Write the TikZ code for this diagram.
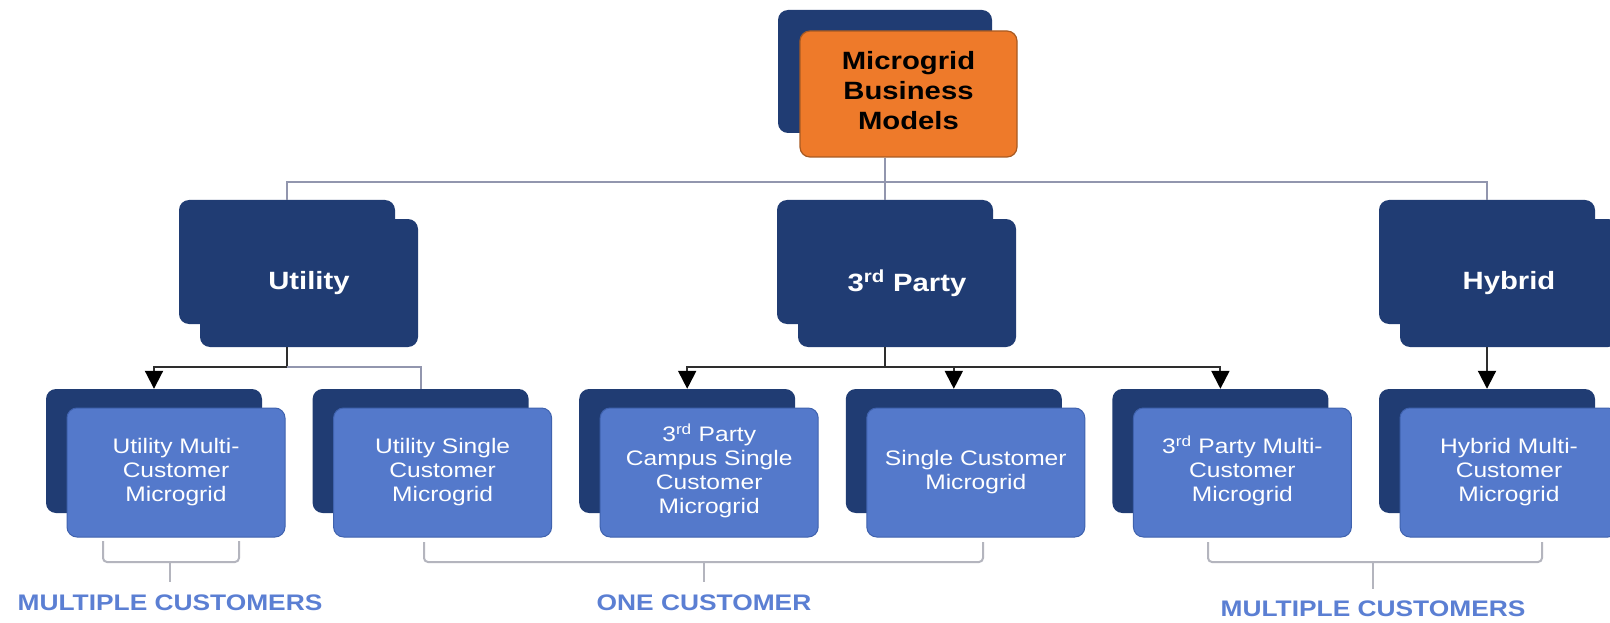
\documentclass[tikz,border=0pt]{standalone}
\usepackage{fontspec}
\setmainfont{Liberation Sans}
\usepackage{graphicx}
\usetikzlibrary{arrows.meta,calc}

\definecolor{navy}{HTML}{203C73}
\definecolor{childblue}{HTML}{5479CB}
\definecolor{childedge}{HTML}{3F62AE}
\definecolor{rootorange}{HTML}{EE7A2A}
\definecolor{rootedge}{HTML}{A85A22}
\definecolor{busgray}{HTML}{9296AE}
\definecolor{linkdark}{HTML}{2E2E2E}
\definecolor{bracketgray}{HTML}{B4B5BE}
\definecolor{labelblue}{HTML}{5B7FD3}

% slightly widened text, several lines or one line
\newcommand\wtext[1]{\scalebox{1.17}[1]{\begin{tabular}{@{}c@{}}#1\end{tabular}}}
\newcommand\wline[1]{\scalebox{1.17}[1]{#1}}

\tikzset{
  box/.style={rounded corners=10pt, minimum width=218pt, minimum height=128pt, inner sep=0pt},
  backbox/.style={box, minimum width=216pt, minimum height=124pt, fill=navy},
  rootbox/.style={box, minimum width=217pt, minimum height=126pt, fill=rootorange,
    draw=rootedge, line width=1.2pt, text=black, font=\fontsize{25}{30}\selectfont\bfseries},
  groupbox/.style={box, fill=navy, text=white, font=\fontsize{25}{30}\selectfont\bfseries},
  leafbox/.style={box, minimum height=129pt, fill=childblue, draw=childedge,
    line width=1pt, text=white, font=\fontsize{21}{24}\selectfont},
  plain/.style={draw=busgray, line width=2pt},
  trunk/.style={draw=linkdark, line width=2pt},
  link/.style={trunk, -{Triangle[length=18pt,width=18pt,color=black]}},
  bracket/.style={draw=bracketgray, line width=2pt, rounded corners=4pt},
  tag/.style={text=labelblue, font=\fontsize{22.5}{27}\selectfont\bfseries, inner sep=0pt},
}

\begin{document}
\begin{tikzpicture}[x=1pt,y=-1pt]
\fill[white] (0,0) rectangle (1610,623);
\useasboundingbox (0,0) rectangle (1610,623);

% root
\node[backbox, minimum width=214pt, minimum height=123pt] (rootb) at (885,71.5) {};
\node[rootbox] (root) at (908.5,94) {\raisebox{-4pt}{\wtext{Microgrid\\Business\\Models}}};

% business model groups
\node[backbox] (utilb) at (287,262) {};
\node[groupbox] (util) at (309,283) {\wline{Utility}};
\node[backbox] (partyb) at (885,262) {};
\node[groupbox] (party) at (907,283) {\wline{3\textsuperscript{rd} Party}};
\node[backbox] (hybb) at (1487,262) {};
\node[groupbox] (hyb) at (1509,283) {\wline{Hybrid}};

% microgrid types
\node[backbox] (c1b) at (154,451) {};
\node[leafbox] (c1) at (176,472.5) {\wtext{Utility Multi-\\Customer\\Microgrid}};
\node[backbox] (c2b) at (420.6,451) {};
\node[leafbox] (c2) at (442.6,472.5) {\wtext{Utility Single\\Customer\\Microgrid}};
\node[backbox] (c3b) at (687.2,451) {};
\node[leafbox] (c3) at (709.2,472.5) {\wtext{3\textsuperscript{rd} Party\\Campus Single\\Customer\\Microgrid}};
\node[backbox] (c4b) at (953.8,451) {};
\node[leafbox] (c4) at (975.8,472.5) {\wtext{Single Customer\\Microgrid}};
\node[backbox] (c5b) at (1220.4,451) {};
\node[leafbox] (c5) at (1242.4,472.5) {\wtext{3\textsuperscript{rd} Party Multi-\\Customer\\Microgrid}};
\node[backbox] (c6b) at (1487,451) {};
\node[leafbox] (c6) at (1509,472.5) {\wtext{Hybrid Multi-\\Customer\\Microgrid}};

% root to groups
\draw[plain] (root.south -| rootb.center) -- ++(0,24) coordinate (hub);
\draw[plain] (hub) -| (utilb.north);
\draw[plain] (hub) -| (hybb.north);
\draw[plain] (hub) -- (partyb.north);

% utility branch
\draw[trunk] (util.south -| utilb.center) -- ++(0,20) coordinate (uj);
\draw[link] (uj) -| (c1b.north);
\draw[plain] (uj) -| (c2b.north);

% third party branch
\draw[trunk] (party.south -| partyb.center) -- ++(0,20) coordinate (pj);
\draw[link] (pj) -| (c3b.north);
\draw[link] (pj) -| (c4b.north);
\draw[link] (pj) -| (c5b.north);

% hybrid branch
\draw[link] (hyb.south -| hybb.center) -- (c6b.north);

% customer groupings
\node[tag] (lab1) at (170,603) {\wline{MULTIPLE CUSTOMERS}};
\node[tag] (lab2) at (704,603) {\wline{ONE CUSTOMER}};
\node[tag] (lab3) at (1373,609) {\wline{MULTIPLE CUSTOMERS}};

\draw[bracket] (103,541) -- (103,562) -- (239,562) -- (239,541);
\draw[bracket, shorten >=13pt] (lab1.north |- 0,562) -- (lab1.north);
\draw[bracket] (424,542) -- (424,562) -- (983,562) -- (983,542);
\draw[bracket, shorten >=13pt] (lab2.north |- 0,562) -- (lab2.north);
\draw[bracket] (1208,542) -- (1208,562) -- (1542,562) -- (1542,542);
\draw[bracket, shorten >=12pt] (lab3.north |- 0,562) -- (lab3.north);
\end{tikzpicture}
\end{document}
